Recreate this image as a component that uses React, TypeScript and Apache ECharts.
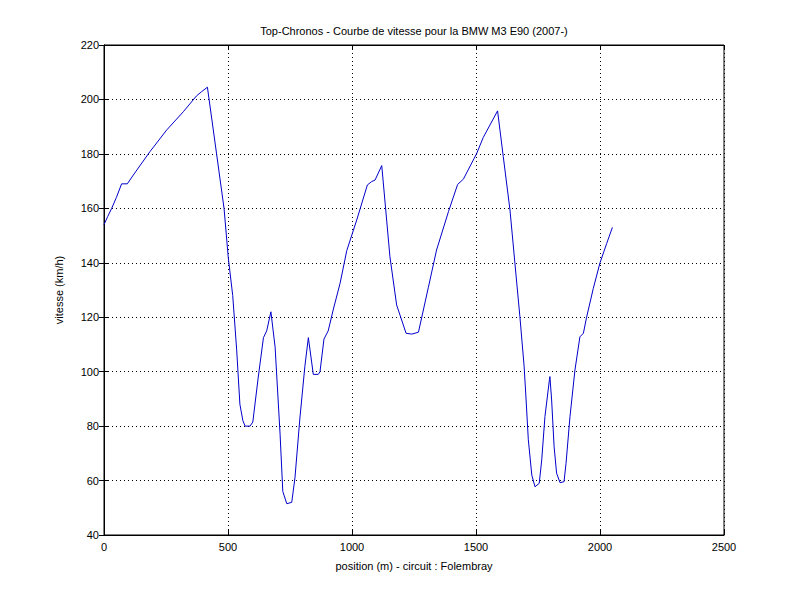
import React, { useEffect, useRef } from "react";
import * as echarts from "echarts";

const positions = [0, 15, 31, 50, 71, 94, 118, 185, 253, 320, 373, 394, 417, 454, 484, 501, 519, 535, 548, 560, 569, 589, 600, 622, 643, 656, 673, 690, 710, 721, 737, 757, 770, 790, 810, 824, 844, 864, 871, 887, 904, 925, 952, 979, 1019, 1062, 1079, 1093, 1120, 1153, 1180, 1218, 1241, 1268, 1308, 1341, 1389, 1426, 1449, 1503, 1529, 1587, 1610, 1637, 1657, 1677, 1694, 1702, 1711, 1725, 1738, 1755, 1765, 1778, 1796, 1798, 1805, 1815, 1825, 1839, 1855, 1863, 1879, 1899, 1919, 1933, 1946, 1973, 2000, 2027, 2050];
const speeds = [154, 157, 160, 164, 169, 169, 172.2, 180.8, 188.8, 195.5, 201.3, 202.9, 204.5, 180, 160, 142, 128, 108, 88, 82, 80, 80, 81.5, 98, 112.5, 115, 122, 109, 77, 56, 51.5, 52, 61, 83, 102, 112.5, 99, 99, 100, 112, 115, 123, 132.5, 144.5, 155.7, 168.6, 169.8, 170.4, 175.7, 142.2, 124.5, 114.1, 113.8, 114.5, 131, 144.7, 158.8, 168.8, 170.7, 180.2, 186, 195.8, 179, 159.4, 139.8, 120.2, 102, 89.6, 75, 62, 57.7, 59, 67.6, 83.5, 97, 98.2, 89.6, 72.4, 62.7, 59.2, 59.6, 66.3, 83.5, 100.6, 112.8, 114.1, 120, 130.6, 140, 147.1, 153];

const titleText = "Top-Chronos - Courbe de vitesse pour la BMW M3 E90 (2007-)";
const xName = "position (m) - circuit : Folembray";
const yName = "vitesse (km/h)";

export default function App() {
  const ref = useRef<HTMLDivElement>(null);
  useEffect(() => {
    document.body.style.margin = "0";
    const chart = echarts.init(ref.current!, null, { renderer: "svg" });
    const font = "'Liberation Sans', Arial, sans-serif";
    const gridLine = { show: true, lineStyle: { color: "#000", type: [1, 3] as any, width: 1 } };
    const tick = { show: true, inside: true, length: 5, lineStyle: { color: "#000" } };
    const plain = (v: number) => String(v);
    chart.setOption({
      animation: false,
      backgroundColor: "#fff",
      graphic: [
        {
          type: "text",
          x: 414,
          y: 31,
          style: { text: titleText, fontFamily: font, fontSize: 11, fill: "#000", textAlign: "center", textVerticalAlign: "middle" },
        },
      ],
      grid: { left: 104, right: 76, top: 45, bottom: 66, show: true, borderColor: "#000", borderWidth: 1, backgroundColor: "#fff" },
      xAxis: [
        {
          type: "value",
          min: 0,
          max: 2500,
          interval: 500,
          position: "bottom",
          name: xName,
          nameLocation: "middle",
          nameGap: 25,
          nameTextStyle: { fontFamily: font, fontSize: 11, color: "#000" },
          axisLine: { show: true, lineStyle: { color: "#000" } },
          axisTick: tick,
          axisLabel: { fontFamily: font, fontSize: 11, color: "#000", margin: 6, formatter: plain },
          splitLine: gridLine,
        },
        {
          type: "value",
          min: 0,
          max: 2500,
          interval: 500,
          position: "top",
          axisLine: { show: true, lineStyle: { color: "#000" } },
          axisTick: tick,
          axisLabel: { show: false },
          splitLine: { show: false },
        },
      ],
      yAxis: [
        {
          type: "value",
          min: 40,
          max: 220,
          interval: 20,
          position: "left",
          name: yName,
          nameLocation: "middle",
          nameGap: 40,
          nameTextStyle: { fontFamily: font, fontSize: 11, color: "#000" },
          axisLine: { show: true, lineStyle: { color: "#000" } },
          axisTick: tick,
          axisLabel: { fontFamily: font, fontSize: 11, color: "#000", margin: 5, formatter: plain },
          splitLine: gridLine,
        },
        {
          type: "value",
          min: 40,
          max: 220,
          interval: 20,
          position: "right",
          axisLine: { show: true, lineStyle: { color: "#000" } },
          axisTick: tick,
          axisLabel: { show: false },
          splitLine: { show: false },
        },
      ],
      series: [
        {
          type: "line",
          data: positions.map((p, i) => [p, speeds[i]]),
          showSymbol: false,
          symbol: "none",
          lineStyle: { color: "#0000cc", width: 1 },
          xAxisIndex: 0,
          yAxisIndex: 0,
        },
      ],
    });
    return () => chart.dispose();
  }, []);
  return <div ref={ref} style={{ width: 800, height: 601 }} />;
}
